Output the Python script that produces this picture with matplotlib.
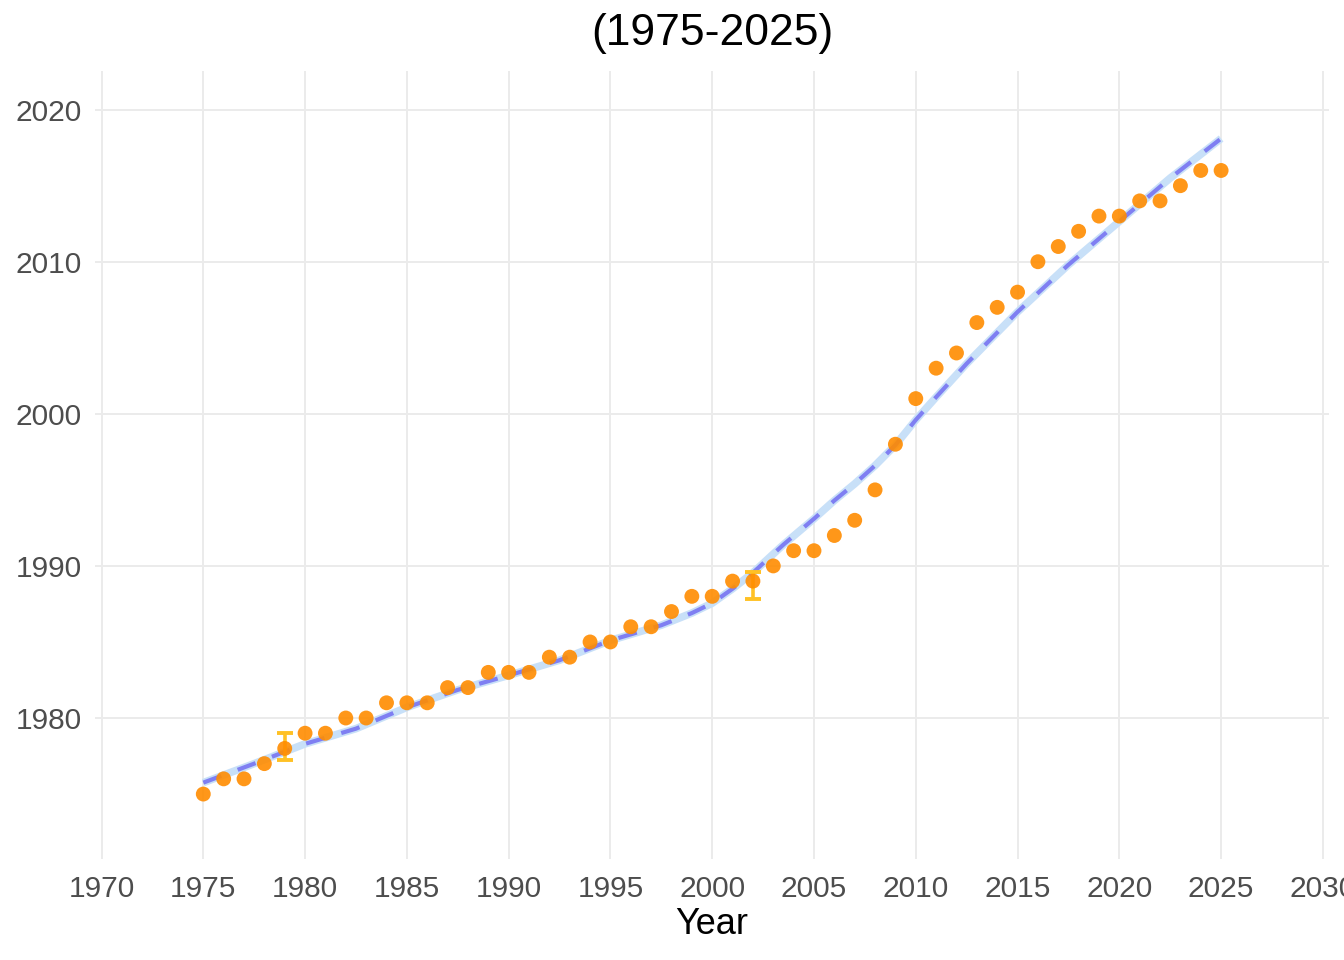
import matplotlib
matplotlib.use("Agg")
import matplotlib.pyplot as plt
import numpy as np

plt.rcParams['font.family'] = ['Liberation Sans', 'DejaVu Sans']

# Data
years = [1975, 1976, 1977, 1978, 1979, 1980, 1981, 1982, 1983, 1984, 1985, 1986,
         1987, 1988, 1989, 1990, 1991, 1992, 1993, 1994, 1995, 1996, 1997, 1998,
         1999, 2000, 2001, 2002, 2003, 2004, 2005, 2006, 2007, 2008, 2009, 2010,
         2011, 2012, 2013, 2014, 2015, 2016, 2017, 2018, 2019, 2020, 2021, 2022,
         2023, 2024, 2025]
values = [1975, 1976, 1976, 1977, 1978, 1979, 1979, 1980, 1980, 1981, 1981, 1981,
          1982, 1982, 1983, 1983, 1983, 1984, 1984, 1985, 1985, 1986, 1986, 1987,
          1988, 1988, 1989, 1989, 1990, 1991, 1991, 1992, 1993, 1995, 1998, 2001,
          2003, 2004, 2006, 2007, 2008, 2010, 2011, 2012, 2013, 2013, 2014, 2014,
          2015, 2016, 2016]

err_years = [1979, 2002]
err_values = [1978, 1989]
err_lower = [1977.25, 1987.83]
err_upper = [1979.0, 1989.63]

smooth_years = [1975, 1977.5, 1980, 1982.5, 1985, 1987.5, 1990, 1992.5, 1995, 1997.5,
                1999, 2000, 2001, 2002, 2003.5, 2005, 2006, 2007, 2008, 2009, 2010,
                2011, 2012.5, 2015, 2017.5, 2020, 2022.5, 2025]
smooth_values = [1975.75, 1977.0, 1978.3, 1979.3, 1980.7, 1981.85, 1982.8, 1983.8,
                 1985.1, 1986.1, 1986.9, 1987.55, 1988.5, 1989.55, 1991.4, 1993.1,
                 1994.3, 1995.4, 1996.6, 1997.95, 1999.6, 2001.1, 2003.3, 2006.7,
                 2009.8, 2012.65, 2015.5, 2018.1]

x_ticks = list(range(1970, 2031, 5))
y_ticks = [1980, 1990, 2000, 2010, 2020]
title = "(1975-2025)"
xlabel = "Year"

W, H = 1344, 960
fig = plt.figure(figsize=(W / 100, H / 100), dpi=100)
ax = fig.add_axes([95 / W, (H - 859) / H, (1329 - 95) / W, (859 - 71) / H])

for s in ax.spines.values():
    s.set_visible(False)
ax.set_xlim(1969.68, 2030.3)
ax.set_ylim(1970.73, 2022.54)
ax.set_xticks(x_ticks)
ax.set_yticks(y_ticks)
ax.grid(True, color='#EBEBEB', linewidth=1.4)
ax.set_axisbelow(True)
ax.tick_params(length=0, labelsize=21.5, labelcolor='#4D4D4D')
ax.tick_params(axis='x', pad=11.5)
ax.tick_params(axis='y', pad=9.5)

ax.plot(smooth_years, smooth_values, color='#C8E0F8', linewidth=5.5,
        solid_capstyle='butt', solid_joinstyle='round', zorder=2)
ax.plot(smooth_years, smooth_values, color='#7F7FF2', linewidth=3.0,
        dashes=(4.6, 4.2), zorder=3)

yerr = [np.array(err_values) - np.array(err_lower),
        np.array(err_upper) - np.array(err_values)]
ax.errorbar(err_years, err_values, yerr=yerr, fmt='none', ecolor='#FFC125',
            elinewidth=2.6, capsize=5.5, capthick=2.8, zorder=4)

ax.scatter(years, values, s=115, color='#FF8C00', alpha=0.9, edgecolors='none',
           zorder=5)

fig.text(712 / W, 1 - 33 / H, title, ha='center', va='center', fontsize=32,
         color='black')
fig.text(712 / W, 1 - 925 / H, xlabel, ha='center', va='center', fontsize=26,
         color='black')

fig.savefig('out.png', dpi=100, facecolor='white')
